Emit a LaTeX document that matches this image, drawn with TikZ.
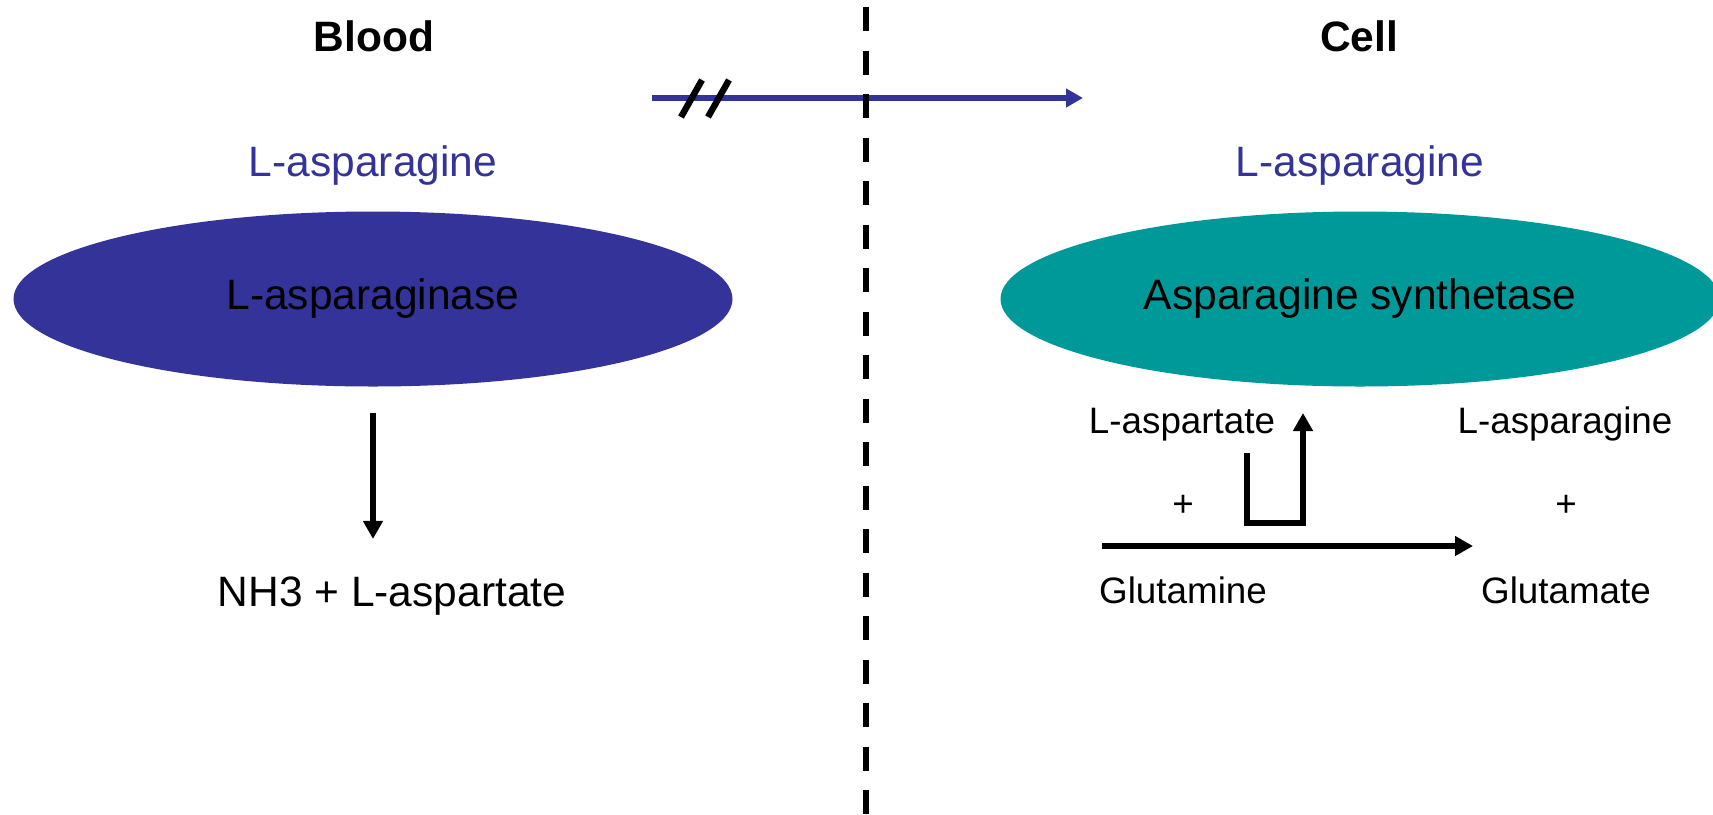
\documentclass[tikz,border=0pt]{standalone}
\usepackage{fontspec}
\setmainfont{Liberation Sans}
\usetikzlibrary{arrows.meta,shapes.geometric}
\definecolor{dblue}{HTML}{333399}
\definecolor{tealc}{HTML}{009999}
\begin{document}
\begin{tikzpicture}[x=0.5pt,y=-0.5pt,
  big/.style={font=\fontsize{21.25}{25}\selectfont, inner sep=0pt, anchor=base},
  head/.style={font=\fontsize{21.25}{25}\selectfont\bfseries, inner sep=0pt, anchor=base},
  small/.style={font=\fontsize{18.4}{22}\selectfont, inner sep=0pt, anchor=base},
  enzyme/.style={ellipse, draw=none, inner sep=0pt, minimum width=359.5pt, minimum height=87.5pt, font=\fontsize{21.25}{25}\selectfont},
  arr/.style={line width=3pt, -{Triangle[length=9pt,width=9.5pt]}},
  barr/.style={draw=dblue, line width=3pt, -{Triangle[length=8.5pt,width=9pt]}},
  slash/.style={line width=3.2pt},
  divider/.style={line width=2.8pt, dash pattern=on 12pt off 9.75pt}
]
\fill[white] (0,0) rectangle (1713,814);
\useasboundingbox (0,0) rectangle (1713,814);

% headings
\node[head] (blood) at (374,51) {Blood};
\node[head] (cell) at (1359,51) {Cell};

% substrates
\node[big, text=dblue] (asn1) at (373,176) {L-asparagine};
\node[big, text=dblue] (asn2) at (1360,176) {L-asparagine};

% enzymes
\node[enzyme, fill=dblue] (ase) at (373,299) {L-asparaginase};
\node[enzyme, fill=tealc] (syn) at (1360,299) {Asparagine synthetase};

% products left
\node[big] (prod) at (392,606) {NH3 + L-aspartate};

% reaction right
\node[small] (asp) at (1182,433) {L-aspartate};
\node[small] (plus1) at (1183,516) {+};
\node[small] (gln) at (1183,603) {Glutamine};
\node[small] (asn3) at (1565,433) {L-asparagine};
\node[small] (plus2) at (1566,516) {+};
\node[small] (glu) at (1566,603) {Glutamate};

% blocked transport arrow
\coordinate (t1) at (652,98);
\coordinate (t2) at (1083,98);
\draw[barr] (t1) -- (t2);
\draw[slash] (681,117) -- (702,80);
\draw[slash] (708,117) -- (729,80);

% membrane divider
\coordinate (d1) at (866,7);
\coordinate (d2) at (866,814);
\draw[divider] (d1) -- (d2);

% left reaction arrow
\coordinate (a1) at ([yshift=-13pt]ase.south);
\coordinate (a2) at ([yshift=18.5pt]prod.north);
\draw[arr] (a1) -- (a2 -| a1);

% right reaction arrows
\coordinate (r1) at (1102,546);
\coordinate (r2) at (1473,546);
\draw[arr] (r1) -- (r2);
\coordinate (u1) at (1247,453);
\coordinate (u2) at (1303,413);
\draw[arr] (u1) |- (1303,523) -- (u2);
\end{tikzpicture}
\end{document}
